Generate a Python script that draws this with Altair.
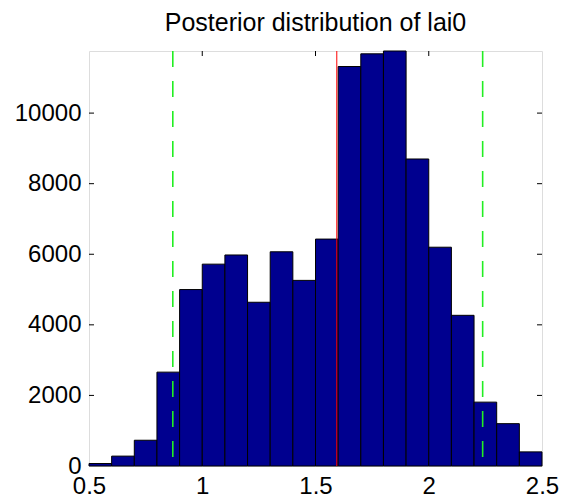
import altair as alt
import pandas as pd

# Histogram of posterior samples for lai0 (bin width 0.1)
bin_start = [0.5, 0.6, 0.7, 0.8, 0.9, 1.0, 1.1, 1.2, 1.3, 1.4,
             1.5, 1.6, 1.7, 1.8, 1.9, 2.0, 2.1, 2.2, 2.3, 2.4]
bin_end = [0.6, 0.7, 0.8, 0.9, 1.0, 1.1, 1.2, 1.3, 1.4, 1.5,
           1.6, 1.7, 1.8, 1.9, 2.0, 2.1, 2.2, 2.3, 2.4, 2.5]
counts = [70, 280, 730, 2660, 5000, 5720, 5980, 4640, 6070, 5260,
          6430, 11320, 11680, 11760, 8700, 6200, 4270, 1810, 1200, 400]

# Reference markers: central estimate (red) and interval bounds (green dashed)
center_value = [1.594]
interval_bounds = [0.87, 2.238]

x_ticks = [0.5, 1.0, 1.5, 2.0, 2.5]
y_ticks = [0, 2000, 4000, 6000, 8000, 10000]
y_max = 11760

title_text = ["Posterior distribution of lai0"]

W, H = 453, 415
FONT = "Liberation Sans"

hist = pd.DataFrame({"lo": bin_start, "hi": bin_end, "n": counts})
xs = alt.Scale(domain=[0.5, 2.5], nice=False, zero=False)
ys = alt.Scale(domain=[0, y_max], nice=False)

bars = alt.Chart(hist).mark_bar(
    color="#00008f", stroke="black", strokeWidth=1, opacity=1
).encode(
    x=alt.X("lo:Q", scale=xs,
            axis=alt.Axis(values=x_ticks, format="~g", title=None,
                          ticks=False, domain=False, grid=False,
                          labelFlush=False, labelOverlap=False,
                          labelFontSize=24, labelFont=FONT,
                          labelColor="black", labelPadding=8)),
    x2="hi:Q",
    y=alt.Y("n:Q", scale=ys,
            axis=alt.Axis(values=y_ticks, format="d", title=None,
                          ticks=False, domain=False, grid=False,
                          labelFlush=False, labelOverlap=False,
                          labelFontSize=24, labelFont=FONT,
                          labelColor="black", labelPadding=8)),
    y2=alt.datum(0),
)

# Inward-pointing tick marks on all four sides of the box
yt = pd.DataFrame({"v": y_ticks[1:]})
xt = pd.DataFrame({"v": x_ticks[1:-1]})
tick_style = dict(color="black", strokeWidth=1)
left_ticks = alt.Chart(yt).mark_rule(**tick_style).encode(
    y=alt.Y("v:Q", scale=ys), x=alt.value(0), x2=alt.value(5))
right_ticks = alt.Chart(yt).mark_rule(**tick_style).encode(
    y=alt.Y("v:Q", scale=ys), x=alt.value(W - 5), x2=alt.value(W))
top_ticks = alt.Chart(xt).mark_rule(**tick_style).encode(
    x=alt.X("v:Q", scale=xs), y=alt.value(0), y2=alt.value(5))
bottom_ticks = alt.Chart(xt).mark_rule(**tick_style).encode(
    x=alt.X("v:Q", scale=xs), y=alt.value(H - 5), y2=alt.value(H))

red_line = alt.Chart(pd.DataFrame({"v": center_value})).mark_rule(
    color="#ff0000", strokeWidth=1
).encode(x=alt.X("v:Q", scale=xs), y=alt.value(0), y2=alt.value(H))

green_lines = alt.Chart(pd.DataFrame({"v": interval_bounds})).mark_rule(
    color="#22ee22", strokeWidth=1.6, strokeDash=[16, 14]
).encode(x=alt.X("v:Q", scale=xs), y=alt.value(0), y2=alt.value(H))

# Chart heading, set just above the box
heading = alt.Chart(pd.DataFrame({"t": title_text})).mark_text(
    font=FONT, fontSize=25, color="black", align="center",
    baseline="alphabetic"
).encode(text="t:N", x=alt.value(W / 2), y=alt.value(-20))

chart = alt.layer(
    left_ticks, right_ticks, top_ticks, bottom_ticks,
    bars, red_line, green_lines, heading,
).properties(
    width=W,
    height=H,
    padding={"left": 89, "top": 51, "right": 27, "bottom": 38},
    autosize=alt.AutoSizeParams(type="none"),
).configure_view(
    stroke="black", strokeWidth=1
).configure(background="white")

chart.save("out.html", embed_options={"renderer": "svg", "actions": False})
